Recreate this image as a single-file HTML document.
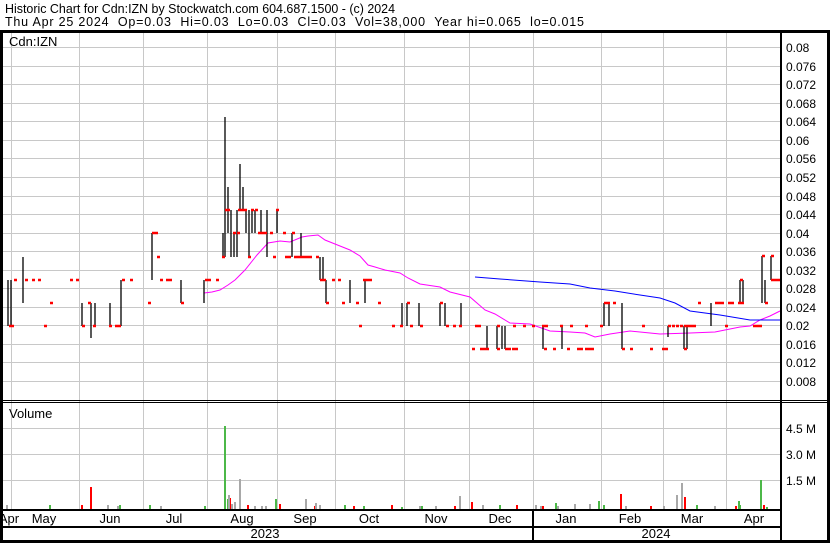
<!DOCTYPE html>
<html><head><meta charset="utf-8"><style>
html,body{margin:0;padding:0;background:#fff}
svg{display:block}
text{font-family:"Liberation Sans",Arial,sans-serif;fill:#000}
</style></head><body>
<svg width="830" height="543" viewBox="0 0 830 543" xmlns="http://www.w3.org/2000/svg">
<rect width="830" height="543" fill="#fff"/>
<text x="5" y="13" font-size="12.5" textLength="390" lengthAdjust="spacingAndGlyphs">Historic Chart for Cdn:IZN by Stockwatch.com 604.687.1500 - (c) 2024</text>
<text x="5" y="26" font-size="12.5" xml:space="preserve" textLength="579" lengthAdjust="spacing">Thu Apr 25 2024  Op=0.03  Hi=0.03  Lo=0.03  Cl=0.03  Vol=38,000  Year hi=0.065  lo=0.015</text>
<g stroke="#c8c8c8" stroke-width="1">
<path d="M3 47.5H781M3 66.5H781M3 84.5H781M3 103.5H781M3 121.5H781M3 140.5H781M3 158.5H781M3 177.5H781M3 196.5H781M3 214.5H781M3 233.5H781M3 251.5H781M3 270.5H781M3 288.5H781M3 307.5H781M3 325.5H781M3 344.5H781M3 362.5H781M3 381.5H781"/>
<path d="M3 428.5H781M3 454.5H781M3 480.5H781"/>
<path d="M11.5 32V509M79.5 32V509M143.5 32V509M207.5 32V509M277.5 32V509M335.5 32V509M404.5 32V509M469.5 32V509M533.5 32V509M601.5 32V509M663.5 32V509M726.5 32V509"/>
</g>
<polyline fill="none" stroke="#ff00ff" stroke-width="1" points="204,293 212,292 220,290 228,285 235,280 245,270 257,255 268,243 280,241 290,242 302,237 308,236 318,235 325,240 340,246 350,250 360,256 368,265 375,267 385,270 400,273 408,278 420,284 440,287 450,292 470,297 485,310 495,314 510,323 530,324 550,331 570,332 585,333 595,337 610,334 630,331 660,334 690,333 715,332 730,329 740,327 750,326 760,320 770,316 780,311"/>
<polyline fill="none" stroke="#0000ff" stroke-width="1" points="475,277 500,279 540,282 570,284 590,288 615,291 640,295 660,298 675,303 690,311 720,315 750,320 780,320"/>
<path fill="none" stroke="#000" stroke-width="1.3" d="M8 280V326M11 280V326M23 257V303M82 303V326M91 303V338M95 303V326M110 303V326M121 280V326M152 233V280M181 280V303M204 280V303M223 233V257M225 117V257M228 187V233M231 210V257M234 233V257M237 210V257M240 164V210M243 187V210M246 210V233M249 210V257M252 210V233M255 210V233M261 210V233M267 210V257M277 210V233M292 233V257M301 233V257M320 257V280M323 257V280M326 280V303M350 280V303M365 280V303M402 303V326M407 303V326M419 303V326M440 303V326M445 303V326M461 303V326M487 326V349M497 326V349M502 326V349M505 326V349M543 326V349M562 326V349M604 303V326M609 303V326M622 303V349M668 326V337M684 326V349M687 326V349M711 303V326M740 280V303M743 280V303M762 256V303M765 280V303M771 256V280"/>
<path fill="none" stroke="#ff0000" stroke-width="2.5" d="M0 326h3M9 326h3M11 326h3M14 280h3M25 280h3M32 280h3M38 280h3M44 326h3M50 303h3M70 280h3M76 280h3M82 326h3M88 303h3M93 326h3M109 326h3M115 326h3M118 326h3M122 280h3M130 280h3M148 303h3M152 233h3M155 233h3M157 257h3M160 280h3M166 280h3M169 280h3M181 303h3M205 280h3M208 280h3M216 280h3M222 257h3M225 210h3M227 210h3M233 233h3M237 233h3M238 210h3M241 210h3M244 210h3M248 257h3M251 210h3M255 210h3M258 233h3M261 233h3M264 233h3M270 233h3M273 257h3M276 210h3M283 233h3M285 257h3M288 257h3M292 233h3M294 257h3M297 257h3M300 257h3M303 257h3M306 257h3M309 257h3M316 257h3M320 280h3M323 280h3M326 303h3M332 280h3M338 280h3M342 303h3M356 303h3M359 326h3M363 280h3M366 280h3M369 280h3M378 303h3M392 326h3M407 303h3M440 303h3M604 303h3M607 303h3M613 303h3M698 303h3M715 303h3M718 303h3M721 303h3M728 303h3M731 303h3M738 303h3M741 303h3M765 303h3M400 326h3M410 326h3M420 326h3M446 326h3M453 326h3M459 326h3M475 326h3M478 326h3M497 326h3M513 326h3M523 326h3M532 326h3M542 326h3M545 326h3M560 326h3M570 326h3M585 326h3M600 326h3M642 326h3M668 326h3M672 326h3M676 326h3M680 326h3M684 326h3M687 326h3M690 326h3M693 326h3M725 326h3M753 326h3M756 326h3M759 326h3M472 349h3M480 349h3M483 349h3M486 349h3M497 349h3M505 349h3M508 349h3M512 349h3M515 349h3M544 349h3M553 349h3M567 349h3M577 349h3M580 349h3M585 349h3M588 349h3M591 349h3M622 349h3M630 349h3M650 349h3M662 349h3M665 349h3M684 349h3M740 280h3M771 280h3M774 280h3M777 280h3M762 256h3M771 256h3"/>
<g stroke-width="2">
<path stroke="#4cb848" d="M225 509V426M228 509V499M276 509V499M739 509V501M761 509V480M599 509V501M150 509V505M205 509V506M50 509V505M120 509V505M345 509V505M364 509V506M402 509V507M556 509V503M604 509V505M697 509V505M740 509V505M767 509V507M500 509V505M422 509V506"/>
<path stroke="#ff0000" d="M91 509V487M230 509V498M248 509V505M472 509V502M621 509V494M685 509V497M82 509V505M280 509V504M315 509V506M354 509V506M392 509V505M455 509V506M517 509V505M543 509V506M651 509V506M736 509V506M764 509V505"/>
<path stroke="#a8a8a8" d="M240 509V479M229 509V495M460 509V496M682 509V483M677 509V495M590 509V504M7 509V505M108 509V505M118 509V506M161 509V506M232 509V504M235 509V502M255 509V506M262 509V506M266 509V506M306 509V499M316 509V503M320 509V505M420 509V506M436 509V506M483 509V505M536 509V505M541 509V506M558 509V506M575 509V504M626 509V506M664 509V506M715 509V506"/>
</g>
<g fill="#000">
<rect x="0" y="30" width="830" height="3"/>
<rect x="0" y="30" width="3" height="513"/>
<rect x="780" y="30" width="2" height="513"/>
<rect x="827" y="30" width="3" height="513"/>
<rect x="0" y="540" width="830" height="3"/>
<rect x="0" y="400" width="830" height="1"/>
<rect x="0" y="402" width="830" height="1"/>
<rect x="0" y="509" width="782" height="2"/>
<rect x="0" y="526" width="782" height="2"/>
<rect x="532" y="509" width="2" height="32"/>
</g>
<text x="9" y="46" font-size="13">Cdn:IZN</text>
<text x="9" y="418" font-size="13">Volume</text>
<g font-size="12">
<text x="786" y="52">0.08</text><text x="786" y="71">0.076</text><text x="786" y="89">0.072</text><text x="786" y="108">0.068</text><text x="786" y="126">0.064</text><text x="786" y="145">0.06</text><text x="786" y="163">0.056</text><text x="786" y="182">0.052</text><text x="786" y="201">0.048</text><text x="786" y="219">0.044</text><text x="786" y="238">0.04</text><text x="786" y="256">0.036</text><text x="786" y="275">0.032</text><text x="786" y="293">0.028</text><text x="786" y="312">0.024</text><text x="786" y="330">0.02</text><text x="786" y="349">0.016</text><text x="786" y="367">0.012</text><text x="786" y="386">0.008</text>
<text x="786" y="433">4.5 M</text><text x="786" y="459">3.0 M</text><text x="786" y="485">1.5 M</text>
</g>
<g font-size="13" text-anchor="middle">
<text x="9" y="523">Apr</text><text x="44" y="523">May</text><text x="110" y="523">Jun</text><text x="174" y="523">Jul</text><text x="242" y="523">Aug</text><text x="305" y="523">Sep</text><text x="369" y="523">Oct</text><text x="436" y="523">Nov</text><text x="500" y="523">Dec</text><text x="566" y="523">Jan</text><text x="630" y="523">Feb</text><text x="692" y="523">Mar</text><text x="754" y="523">Apr</text>
<text x="265" y="538">2023</text><text x="656" y="538">2024</text>
</g>
</svg>
</body></html>
